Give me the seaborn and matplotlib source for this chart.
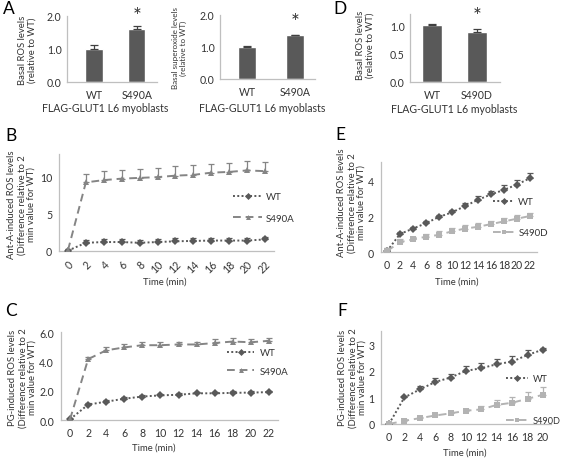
import matplotlib
matplotlib.use("Agg")
import matplotlib.pyplot as plt
import seaborn as sns
import numpy as np
import pandas as pd

# ---------------- data ----------------
groups_A = ["WT", "S490A"]
basal_ros_A = [1.00, 1.62]
basal_ros_A_err = [0.12, 0.07]
basal_sox_A = [1.00, 1.36]
basal_sox_A_err = [0.03, 0.03]

groups_D = ["WT", "S490D"]
basal_ros_D = [1.00, 0.89]
basal_ros_D_err = [0.03, 0.04]

time_22 = [0, 2, 4, 6, 8, 10, 12, 14, 16, 18, 20, 22]
time_20 = [0, 2, 4, 6, 8, 10, 12, 14, 16, 18, 20]

B_wt = [0.05, 1.1, 1.2, 1.2, 1.1, 1.2, 1.3, 1.35, 1.4, 1.4, 1.4, 1.55]
B_wt_err = [0.2, 0.4, 0.45, 0.35, 0.35, 0.4, 0.4, 0.4, 0.4, 0.4, 0.4, 0.3]
B_s490a = [0.1, 9.2, 9.5, 9.7, 9.8, 9.9, 10.1, 10.2, 10.5, 10.6, 10.8, 10.7]
B_s490a_err = [0.2, 1.1, 1.2, 1.2, 1.2, 1.2, 1.3, 1.3, 1.2, 1.2, 1.3, 1.2]

C_wt = [0.05, 1.05, 1.25, 1.45, 1.6, 1.68, 1.72, 1.82, 1.82, 1.85, 1.87, 1.9]
C_wt_err = [0.05, 0.1, 0.12, 0.1, 0.1, 0.1, 0.12, 0.1, 0.1, 0.1, 0.1, 0.1]
C_s490a = [0.05, 4.15, 4.75, 4.95, 5.1, 5.1, 5.15, 5.15, 5.25, 5.35, 5.3, 5.4]
C_s490a_err = [0.05, 0.15, 0.2, 0.2, 0.2, 0.2, 0.2, 0.2, 0.25, 0.25, 0.2, 0.2]

E_wt = [0.05, 1.0, 1.3, 1.6, 1.95, 2.2, 2.55, 2.9, 3.2, 3.45, 3.75, 4.1]
E_wt_err = [0.2, 0.1, 0.1, 0.1, 0.12, 0.15, 0.15, 0.2, 0.2, 0.25, 0.25, 0.3]
E_s490d = [0.05, 0.55, 0.7, 0.85, 0.95, 1.15, 1.3, 1.4, 1.55, 1.7, 1.85, 2.0]
E_s490d_err = [0.1, 0.15, 0.15, 0.15, 0.2, 0.2, 0.2, 0.2, 0.2, 0.2, 0.2, 0.15]

F_wt = [0.0, 1.0, 1.3, 1.58, 1.75, 2.0, 2.1, 2.25, 2.35, 2.6, 2.8]
F_wt_err = [0.05, 0.05, 0.12, 0.15, 0.15, 0.2, 0.2, 0.2, 0.2, 0.2, 0.05]
F_s490d = [0.0, 0.12, 0.22, 0.32, 0.4, 0.5, 0.55, 0.72, 0.8, 0.95, 1.1]
F_s490d_err = [0.02, 0.05, 0.05, 0.05, 0.05, 0.08, 0.12, 0.18, 0.2, 0.25, 0.28]

# ---------------- style ----------------
sns.set_theme(style="white")
plt.rcParams["font.family"] = ["Lato", "DejaVu Sans"]
TXT = "#333333"
AXC = "#bfbfbf"
BAR = "#595959"
C_WT = "#595959"
C_A = "#858585"
C_D = "#b3b3b3"
plt.rcParams["text.color"] = TXT
plt.rcParams["axes.labelcolor"] = TXT
plt.rcParams["xtick.color"] = TXT
plt.rcParams["ytick.color"] = TXT

W, H = 565, 460
fig = plt.figure(figsize=(W / 100, H / 100), dpi=100)

TICK_FS = 7.6


def add_ax(x0, x1, y0, y1):
    ax = fig.add_axes([x0 / W, 1 - y1 / H, (x1 - x0) / W, (y1 - y0) / H])
    ax.__dict__["_px"] = (x0, x1, y0, y1)
    return ax


def to_ax(ax, xp, yp):
    x0, x1, y0, y1 = ax._px
    return (xp - x0) / (x1 - x0), (y1 - yp) / (y1 - y0)


def style_axes(ax):
    for s in ["top", "right"]:
        ax.spines[s].set_visible(False)
    for s in ["left", "bottom"]:
        ax.spines[s].set_color(AXC)
        ax.spines[s].set_linewidth(0.9)
    ax.tick_params(length=0)


def bar_panel(ax, cats, vals, errs, ylim, yticks, yfmt, xlim, width, ylabel,
              ylab_px, ysize, xlab_px, star_off):
    df = pd.DataFrame({"group": cats, "value": vals})
    sns.barplot(data=df, x="group", y="value", color=BAR, saturation=1,
                width=width, ax=ax, errorbar=None)
    xs = np.arange(len(cats))
    ax.errorbar(xs, vals, yerr=[np.zeros(len(vals)), errs], fmt="none",
                ecolor="#404040", elinewidth=0.9, capsize=3, capthick=0.9)
    ax.set_ylim(*ylim)
    ax.set_xlim(*xlim)
    ax.set_yticks(yticks)
    ax.set_yticklabels([yfmt.format(v) for v in yticks], fontsize=TICK_FS)
    ax.tick_params(axis="x", labelsize=TICK_FS, pad=5)
    ax.tick_params(axis="y", pad=4)
    style_axes(ax)
    ax.set_ylabel(ylabel, fontsize=ysize, linespacing=1.1)
    ax.yaxis.set_label_coords(*to_ax(ax, ylab_px[0], ylab_px[1]))
    ax.set_xlabel("FLAG-GLUT1 L6 myoblasts", fontsize=7.6)
    ax.xaxis.set_label_coords(*to_ax(ax, xlab_px[0], xlab_px[1]))
    ax.text(1, vals[1] + errs[1] + star_off, "*", ha="center", va="center",
            fontsize=15, color=TXT, clip_on=False)


def line_panel(ax, t, series, ylim, yticks, yfmt, ylabel, ylab_px, xlab_px,
               rotate, leg_px, handlelength, labelspacing, textpad, leg_fs=7):
    rows = []
    for name, vals, errs, col, mk, dash, ms in series:
        for ti, v in zip(t, vals):
            rows.append({"time": ti, "value": v, "group": name})
    df = pd.DataFrame(rows)
    names = [s[0] for s in series]
    sns.lineplot(data=df, x="time", y="value", hue="group", style="group",
                 hue_order=names, style_order=names,
                 palette={s[0]: s[3] for s in series},
                 markers={s[0]: s[4] for s in series},
                 dashes={s[0]: s[5] for s in series},
                 markersize=4.2, markeredgewidth=0, linewidth=1.4, ax=ax,
                 legend=True, zorder=3)
    for name, vals, errs, col, mk, dash, ms in series:
        ax.errorbar(t, vals, yerr=[np.zeros(len(vals)), errs], fmt="none",
                    ecolor=col, elinewidth=0.9, capsize=2.5, capthick=0.9,
                    zorder=1)
    step = t[1] - t[0]
    ax.set_xlim(t[0] - step / 2, t[-1] + step / 2)
    ax.set_ylim(*ylim)
    ax.set_xticks(t)
    if rotate:
        ax.set_xticklabels([str(v) for v in t], fontsize=TICK_FS, rotation=45,
                           ha="right", rotation_mode="anchor")
    else:
        ax.set_xticklabels([str(v) for v in t], fontsize=TICK_FS)
    ax.set_yticks(yticks)
    ax.set_yticklabels([yfmt.format(v) for v in yticks], fontsize=TICK_FS)
    ax.tick_params(axis="x", pad=5)
    ax.tick_params(axis="y", pad=5)
    style_axes(ax)
    ax.set_ylabel(ylabel, fontsize=6.8, linespacing=1.12)
    ax.yaxis.set_label_coords(*to_ax(ax, ylab_px[0], ylab_px[1]))
    ax.set_xlabel("Time (min)", fontsize=6.8)
    ax.xaxis.set_label_coords(*to_ax(ax, xlab_px[0], xlab_px[1]))
    handles, labels = ax.get_legend_handles_labels()
    keep = [(h, l) for h, l in zip(handles, labels) if l in names]
    old = ax.get_legend()
    if old is not None:
        old.remove()
    ax.legend([k[0] for k in keep], [k[1] for k in keep],
              loc="upper left",
              bbox_to_anchor=(leg_px[0] / W, 1 - leg_px[1] / H),
              bbox_transform=fig.transFigure, frameon=False, fontsize=leg_fs,
              handlelength=handlelength, labelspacing=labelspacing,
              handletextpad=textpad, borderpad=0, borderaxespad=0,
              markerscale=0.85)


ylab_ros = "Basal ROS levels\n(relative to WT)"
ylab_sox = "Basal superoxide levels\n(relative to WT)"
ylab_ant = "Ant-A-induced ROS levels\n(Difference relative to 2\nmin value for WT)"
ylab_pg = "PG-induced ROS levels\n(Difference relative to 2\nmin value for WT)"

# ---- A (left) ----
axA1 = add_ax(67, 157, 17, 83)
bar_panel(axA1, groups_A, basal_ros_A, basal_ros_A_err, (0, 2), [0, 1, 2],
          "{:.1f}", (-0.63, 1.47), 0.4, ylab_ros, (37, 50), 6.8, (105, 103), 0.3)

# ---- A (right) ----
axA2 = add_ax(220, 315, 16, 80)
bar_panel(axA2, groups_A, basal_sox_A, basal_sox_A_err, (0, 2), [0, 1, 2],
          "{:.1f}", (-0.56, 1.42), 0.38, ylab_sox, (187, 48), 5.8, (262, 103), 0.4)

# ---- D ----
axD = add_ax(410, 500, 15, 83)
bar_panel(axD, groups_D, basal_ros_D, basal_ros_D_err, (0, 1.2), [0, 0.5, 1.0],
          "{:.1f}", (-0.49, 1.51), 0.44, ylab_ros, (375, 45), 6.8, (454, 104), 0.23)

# ---- B ----
axB = add_ax(59, 274, 155, 252)
line_panel(axB, time_22,
           [("WT", B_wt, B_wt_err, C_WT, "D", (1, 1.2), 5),
            ("S490A", B_s490a, B_s490a_err, C_A, "^", (4, 2.5), 5)],
           (0, 13), [0, 5, 10], "{:.0f}", ylab_ant, (36, 205), (165, 278),
           True, (233, 193), 3.0, 1.3, 0.35)

# ---- C ----
axC = add_ax(61, 278, 333, 421)
line_panel(axC, time_22,
           [("WT", C_wt, C_wt_err, C_WT, "D", (1, 1.2), 5),
            ("S490A", C_s490a, C_s490a_err, C_A, "^", (4, 2.5), 5)],
           (0, 6), [0, 2, 4, 6], "{:.1f}", ylab_pg, (37, 378), (154, 444),
           False, (227, 349), 2.8, 1.0, 0.6)

# ---- E ----
axE = add_ax(380.5, 536.5, 163, 253)
line_panel(axE, time_22,
           [("WT", E_wt, E_wt_err, C_WT, "D", (1, 1.2), 5),
            ("S490D", E_s490d, E_s490d_err, C_D, "s", (4, 2.5), 5)],
           (0, 5), [0, 2, 4], "{:.0f}", ylab_ant, (366, 203), (457, 278),
           False, (493, 198), 2.2, 2.3, 0.4)

# ---- F ----
axF = add_ax(381.3, 550.7, 332, 425)
line_panel(axF, time_20,
           [("WT", F_wt, F_wt_err, C_WT, "D", (1, 1.2), 5),
            ("S490D", F_s490d, F_s490d_err, C_D, "s", (4, 2.5), 5)],
           (0, 3.5), [0, 1, 2, 3], "{:.0f}", ylab_pg, (367, 378), (465, 449),
           False, (506, 375), 2.4, 3.6, 0.55, leg_fs=6.6)

# panel letters
for letter, x, y in [("A", 3, 1), ("B", 5, 128), ("C", 5, 303),
                     ("D", 333, 1), ("E", 335, 127), ("F", 337, 303)]:
    fig.text(x / W, 1 - y / H, letter, fontsize=12.5, ha="left", va="top",
             color="#000000")

fig.savefig("out.png", dpi=100)
